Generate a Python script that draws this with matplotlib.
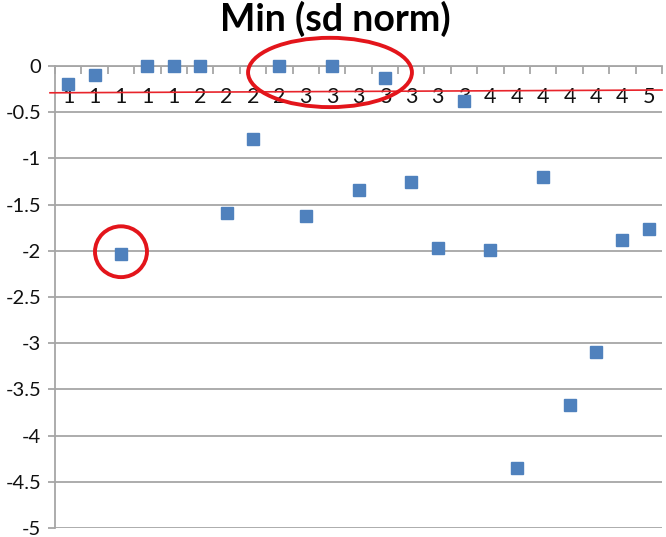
import matplotlib
matplotlib.use("Agg")
import matplotlib.pyplot as plt
from matplotlib.patches import Ellipse
import numpy as np

# category labels along the axis
labels = ["1", "1", "1", "1", "1",
          "2", "2", "2", "2",
          "3", "3", "3", "3", "3", "3", "3",
          "4", "4", "4", "4", "4", "4",
          "5"]

# min (sd norm) for each sample
values = [-0.20, -0.10, -2.03, 0.00, 0.00, 0.00, -1.59, -0.79, 0.00, -1.62,
          0.00, -1.34, -0.13, -1.25, -1.97, -0.38, -1.99, -4.35, -1.20, -3.67,
          -3.10, -1.88, -1.76]

# hand drawn red threshold line (start, end)
threshold = [-0.29, -0.26]

plt.rcParams['font.family'] = ['Lato', 'DejaVu Sans']

fig = plt.figure(figsize=(6.66, 5.37), dpi=100)
ax = fig.add_axes([55 / 666, 9 / 537, 607 / 666, 462 / 537])

x = np.arange(len(values))
grid_col = "#A6A6A6"

ax.set_xlim(-0.5, len(values) - 0.5)
ax.set_ylim(-5, 0)
ax.set_yticks(np.arange(-5, 0.01, 0.5))
ax.set_yticklabels(["%g" % v for v in np.arange(-5, 0.01, 0.5)], fontsize=14.5,
                   color="#111111")
ax.yaxis.grid(True, color=grid_col, linewidth=1.3)
ax.set_axisbelow(True)
ax.tick_params(axis="y", length=5, width=1.3, color=grid_col, pad=5)

# category axis sits at y = 0 (top), ticks between categories
ax.xaxis.set_ticks_position("top")
ax.set_xticks(np.arange(-0.5, len(values), 1.0))
ax.set_xticklabels([])
ax.tick_params(axis="x", direction="in", length=6, width=1.3, color=grid_col)
for xi, lab in zip(x, labels):
    ax.text(xi, -0.34, lab, ha="center", va="center", fontsize=15.5, color="#111111")

for side in ["right", "bottom"]:
    ax.spines[side].set_visible(False)
ax.spines["left"].set_color(grid_col)
ax.spines["left"].set_linewidth(1.3)
ax.spines["top"].set_color(grid_col)
ax.spines["top"].set_linewidth(1.3)

ax.plot(x, values, linestyle="none", marker="s", markersize=8.3,
        color="#4F81BD", clip_on=False, zorder=5)

# red annotations
ax.plot([-0.69, len(values) - 0.5], threshold, color="#E8242B", linewidth=1.2,
        clip_on=False, zorder=4)
ax.add_patch(Ellipse((9.92, -0.07), 6.21, 0.75, fill=False, edgecolor="#E3151B",
                     linewidth=2.8, clip_on=False, zorder=6))
ax.add_patch(Ellipse((2.0, -2.01), 1.97, 0.55, fill=False, edgecolor="#E3151B",
                     linewidth=2.8, clip_on=False, zorder=6))

fig.text(335 / 666, 1 - 19 / 537, "Min (sd norm)", ha="center", va="center",
         fontsize=27, fontweight="bold")

fig.savefig("out.png", dpi=100)
